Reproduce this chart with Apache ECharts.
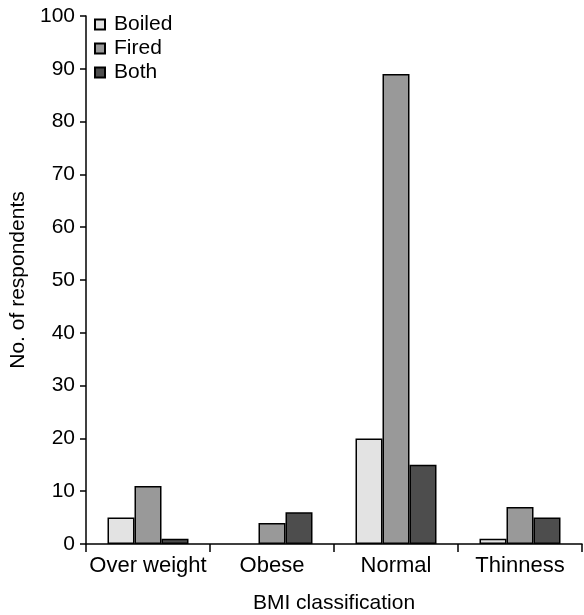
<!DOCTYPE html>
<html lang="en">
<head>
    <meta charset="utf-8">
    <style>
        html, body, #container {
          width: 584px;
          height: 615px;
          margin: 0;
          padding: 0;
          background: #fff;
        }
    </style>
</head>
<body>
<div id="container"></div>
<script type="text/javascript" src="https://fastly.jsdelivr.net/npm/echarts@6/dist/echarts.min.js"></script>
<script type="text/javascript">
  var categories = ['Over weight', 'Obese', 'Normal', 'Thinness'];
  var boiled = [5, 0, 20, 1];
  var fired = [11, 4, 89, 7];
  var both = [1, 6, 15, 5];

  var dom = document.getElementById('container');
  var myChart = echarts.init(dom, null, { renderer: 'canvas' });

  var font = 'Liberation Sans, Arial, sans-serif';

  function bar(name, data, color) {
    return {
      name: name,
      type: 'bar',
      // zero values draw no bar in the original
      data: data.map(function (v) { return v === 0 ? '-' : v; }),
      barWidth: 27,
      barGap: '0%',
      itemStyle: { color: color, borderColor: '#000', borderWidth: 1.5 }
    };
  }

  var option = {
    animation: false,
    grid: { left: 86, right: 2, top: 16, bottom: 71, containLabel: false, outerBoundsMode: 'none' },
    legend: {
      orient: 'vertical',
      left: 89,
      top: 9,
      itemWidth: 10,
      itemHeight: 10,
      itemGap: 3,
      icon: 'rect',
      textStyle: { fontSize: 21, color: '#000', fontFamily: font, padding: [0, 0, 0, 4] },
      data: ['Boiled', 'Fired', 'Both']
    },
    xAxis: {
      type: 'category',
      data: categories,
      name: 'BMI classification',
      nameLocation: 'middle',
      nameGap: 49,
      nameTextStyle: { fontSize: 21, color: '#000', fontFamily: font },
      axisLine: { lineStyle: { color: '#000', width: 1.5 } },
      axisTick: { show: true, interval: 0, length: 8, lineStyle: { color: '#000', width: 1.5 } },
      axisLabel: { interval: 0, fontSize: 22, color: '#000', fontFamily: font, margin: 11 }
    },
    yAxis: {
      type: 'value',
      min: 0,
      max: 100,
      interval: 10,
      name: 'No. of respondents',
      nameLocation: 'middle',
      nameGap: 53,
      nameTextStyle: { fontSize: 21, color: '#000', fontFamily: font },
      axisLine: { show: true, lineStyle: { color: '#000', width: 1.5 } },
      axisTick: { show: true, length: 6, lineStyle: { color: '#000', width: 1.5 } },
      axisLabel: { fontSize: 21, color: '#000', fontFamily: font, margin: 11 },
      splitLine: { show: false }
    },
    series: [
      bar('Boiled', boiled, '#e3e3e3'),
      bar('Fired', fired, '#999999'),
      bar('Both', both, '#4d4d4d')
    ]
  };
  myChart.setOption(option);
</script>
</body>
</html>
